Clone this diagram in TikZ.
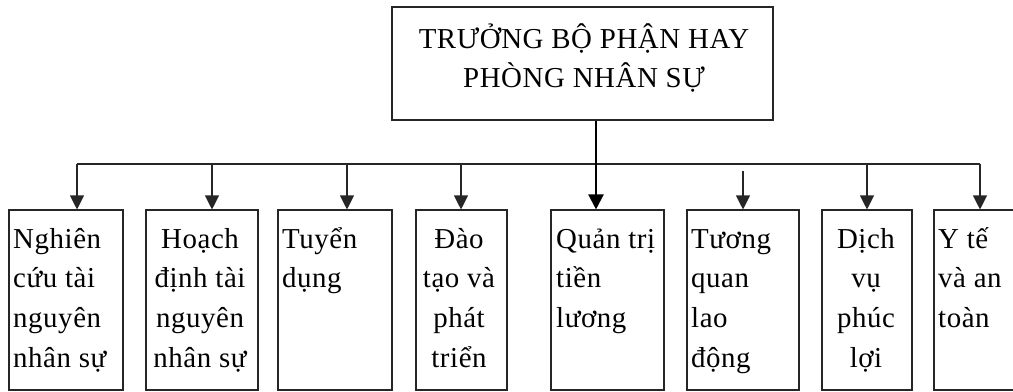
\documentclass[tikz,border=0pt]{standalone}
\usepackage{fontspec}
\setmainfont{Liberation Serif}[LetterSpace=2]
\usetikzlibrary{arrows.meta}
\begin{document}
\begin{tikzpicture}[x=1bp,y=-1bp,
  box/.style={draw=black!85, line width=1.1bp, inner sep=0pt, minimum height=180bp},
  topbox/.style={draw=black!85, line width=1.1bp, inner sep=0pt},
  txt/.style={inner sep=0pt, font=\fontsize{29}{40}\selectfont, align=left, anchor=north west},
  ctxt/.style={inner sep=0pt, font=\fontsize{29}{40}\selectfont, align=center, anchor=north},
  conn/.style={draw=black!85, line width=1.1bp},
  arr/.style={conn, -{Triangle[width=14bp,length=14bp]}},
  mainarr/.style={draw=black, line width=2.2bp, -{Triangle[width=15bp,length=15bp]}}
]
\useasboundingbox (0,0) rectangle (1013,391);
% top box
\node[topbox, minimum width=381bp, minimum height=113bp] (top) at (582.5,63.5) {};
\node[ctxt] (toptxt) at (584,20) {\strut TRƯỞNG BỘ PHẬN HAY\\PHÒNG NHÂN SỰ};
% boxes
\node[box, minimum width=114bp] (b1) at (66,300) {};
\node[box, minimum width=112bp] (b2) at (202,300) {};
\node[box, minimum width=114bp] (b3) at (335,300) {};
\node[box, minimum width=91bp]  (b4) at (461.5,300) {};
\node[box, minimum width=113bp] (b5) at (607.5,300) {};
\node[box, minimum width=112bp] (b6) at (743,300) {};
\node[box, minimum width=90bp]  (b7) at (867,300) {};
\node[box, minimum width=86bp]  (b8) at (977,300) {};
% texts
\node[txt]  (t1) at (13,220)  {\strut Nghiên\\cứu tài\\nguyên\\nhân sự};
\node[ctxt] (t2) at (200,220) {\strut Hoạch\\định tài\\nguyên\\nhân sự};
\node[txt]  (t3) at (282,220) {\strut Tuyển\\dụng};
\node[ctxt] (t4) at (459,220) {\strut Đào\\tạo và\\phát\\triển};
\node[txt]  (t5) at (556,220) {\strut Quản trị\\tiền\\lương};
\node[txt]  (t6) at (691,220) {\strut Tương\\quan\\lao\\động};
\node[ctxt] (t7) at (866,220) {\strut Dịch\\vụ\\phúc\\lợi};
\node[txt]  (t8) at (938,220) {\strut Y tế\\và an\\toàn};
% bus
\coordinate (p1) at (77,164);
\coordinate (p2) at (212,164);
\coordinate (p3) at (347,164);
\coordinate (p4) at (461,164);
\coordinate (p5) at (596,164);
\coordinate (q6) at (743,171);
\coordinate (p7) at (867,164);
\coordinate (p8) at (980,164);
\draw[conn] (p1) -- (p8);
\draw[arr] (p1) -- (p1 |- b1.north);
\draw[arr] (p2) -- (p2 |- b2.north);
\draw[arr] (p3) -- (p3 |- b3.north);
\draw[arr] (p4) -- (p4 |- b4.north);
\draw[arr] (q6) -- (q6 |- b6.north);
\draw[arr] (p7) -- (p7 |- b7.north);
\draw[arr] (p8) -- (p8 |- b8.north);
\draw[mainarr] (p5 |- top.south) -- (p5 |- b5.north);
\end{tikzpicture}
\end{document}
